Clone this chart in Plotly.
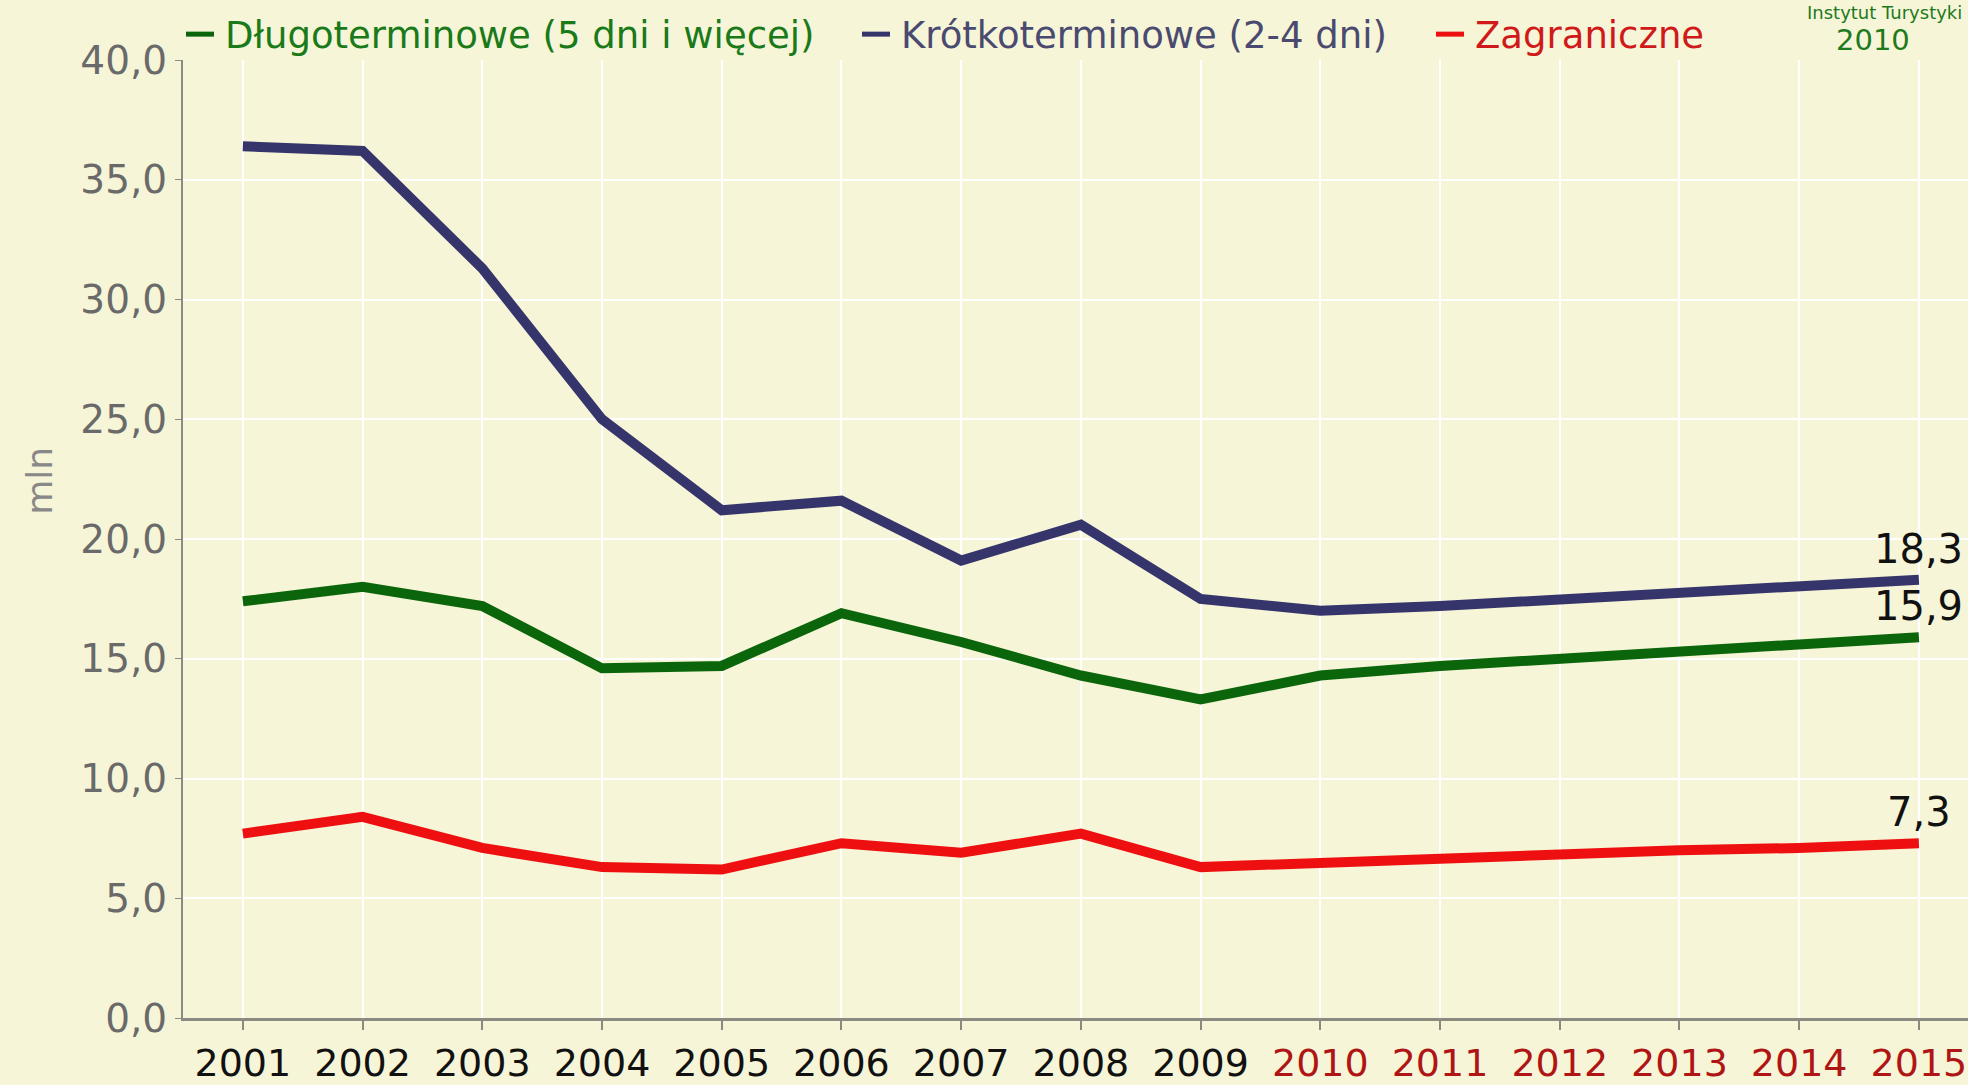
import plotly.graph_objects as go

years = list(range(2001, 2016))
dlugo = [17.4, 18.0, 17.2, 14.6, 14.7, 16.9, 15.7, 14.3, 13.3, 14.3, 14.7, 15.0, 15.3, 15.6, 15.9]
krotko = [36.4, 36.2, 31.3, 25.0, 21.2, 21.6, 19.1, 20.6, 17.5, 17.0, 17.2, 17.5, 17.8, 18.0, 18.3]
zagr = [7.7, 8.4, 7.1, 6.3, 6.2, 7.3, 6.9, 7.7, 6.3, 6.5, 6.6, 6.8, 7.0, 7.1, 7.3]
names = ["Długoterminowe (5 dni i więcej)", "Krótkoterminowe (2-4 dni)", "Zagraniczne"]
colors = ["#0b660b", "#35356c", "#ee1010"]
legend_text_colors = ["#1a7a1a", "#4a4a70", "#d01a1a"]
ytick_vals = [0, 5, 10, 15, 20, 25, 30, 35, 40]

FONT = "DejaVu Sans"
BG = "#f7f5d7"
W, H = 1968, 1085
ML, MT, MB = 183, 60, 62
PW, PH = W - ML, H - MT - MB


def px_x(px):
    return (px - ML) / PW


def px_y(py):
    return (H - MB - py) / PH


fig = go.Figure()
for vals, name, col in zip([dlugo, krotko, zagr], names, colors):
    fig.add_trace(go.Scatter(
        x=years, y=vals, mode="lines", name=name, showlegend=False,
        line=dict(color=col, width=10),
    ))

# end value labels
for vals in [krotko, dlugo, zagr]:
    fig.add_annotation(x=years[-1], y=vals[-1], text=f"{vals[-1]:.1f}".replace(".", ","),
                       showarrow=False, yshift=31, xshift=0,
                       font=dict(family=FONT, size=40, color="#111111"))

# legend (manual, colored text)
leg_dash_px = [186, 862, 1436]
for name, col, tcol, dx in zip(names, colors, legend_text_colors, leg_dash_px):
    fig.add_shape(type="line", xref="paper", yref="paper",
                  x0=px_x(dx), x1=px_x(dx + 28), y0=px_y(34), y1=px_y(34),
                  line=dict(color=col, width=5))
    fig.add_annotation(xref="paper", yref="paper", x=px_x(dx + 37), y=px_y(35),
                       xanchor="left", yanchor="middle", showarrow=False, text=name,
                       font=dict(family=FONT, size=37, color=tcol))

# source note, top right
fig.add_annotation(xref="paper", yref="paper", x=px_x(1964), y=px_y(0),
                   xanchor="right", yanchor="top", showarrow=False,
                   text="Instytut Turystyki", font=dict(family=FONT, size=18, color="#1d7a1d"))
fig.add_annotation(xref="paper", yref="paper", x=px_x(1873), y=px_y(40),
                   xanchor="center", yanchor="middle", showarrow=False,
                   text="2010", font=dict(family=FONT, size=29, color="#1d7a1d"))

# y-axis title
fig.add_annotation(xref="paper", yref="paper", x=px_x(40), y=px_y(483),
                   xanchor="center", yanchor="middle", showarrow=False, textangle=-90,
                   text="mln", font=dict(family=FONT, size=36, color="#888888"))

tick_text = []
for y in years:
    c = "#111111" if y < 2010 else "#b01515"
    tick_text.append(f'<span style="color:{c}">{y}</span>')

fig.update_layout(
    width=W, height=H,
    paper_bgcolor=BG, plot_bgcolor=BG,
    margin=dict(l=ML, r=0, t=MT, b=MB, pad=0),
    font=dict(family=FONT, size=36, color="#555555"),
    showlegend=False,
    xaxis=dict(range=[2000.5, 2015.41], tickvals=years, ticktext=tick_text,
               showgrid=True, gridcolor="#ffffff", gridwidth=2,
               showline=True, linecolor="#8a8a80", linewidth=3,
               ticks="outside", ticklen=9, tickcolor="#8a8a80", tickwidth=2,
               tickfont=dict(family=FONT, size=38), zeroline=False),
    yaxis=dict(range=[0, 40], tickvals=ytick_vals,
               ticktext=[f"{v:.1f}".replace(".", ",") for v in ytick_vals],
               showgrid=True, gridcolor="#ffffff", gridwidth=2,
               showline=True, linecolor="#8a8a80", linewidth=2,
               ticks="outside", ticklen=6, tickcolor="#8a8a80",
               tickfont=dict(family=FONT, size=39, color="#6a6a6a"), zeroline=False),
)

fig.write_html("out.html", config={"displayModeBar": False},
               post_script="document.body.style.margin='0';document.body.style.overflow='hidden';")
